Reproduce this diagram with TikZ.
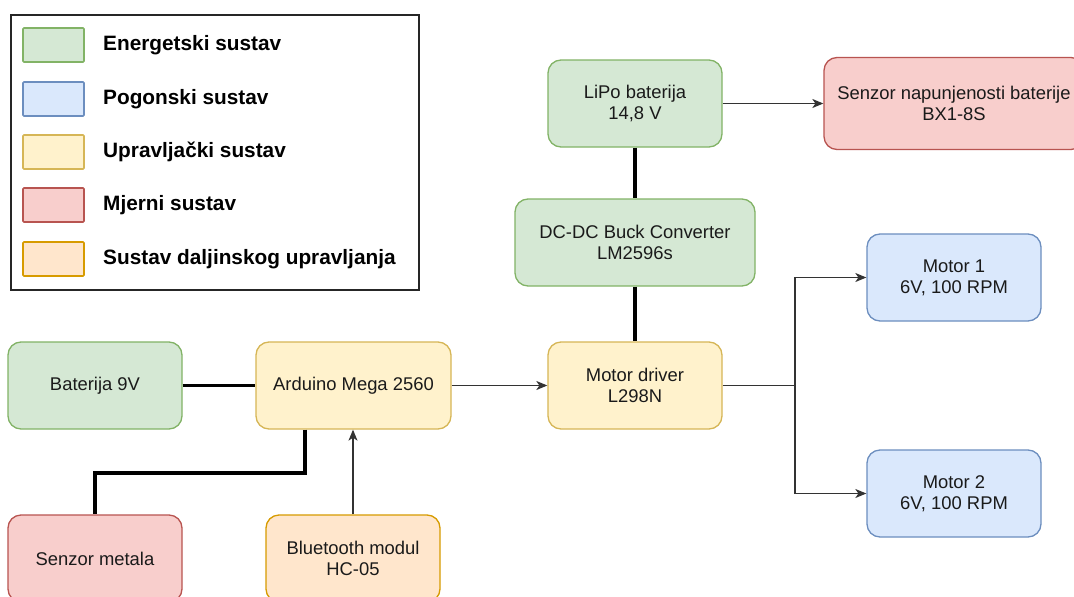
\documentclass[tikz,border=0pt]{standalone}
\usepackage{fontspec}
\setmainfont{Liberation Sans}
\usetikzlibrary{arrows.meta,calc}
\definecolor{gfill}{HTML}{D5E8D4}\definecolor{gdraw}{HTML}{82B366}
\definecolor{bfill}{HTML}{DAE8FC}\definecolor{bdraw}{HTML}{6C8EBF}
\definecolor{yfill}{HTML}{FFF2CC}\definecolor{ydraw}{HTML}{D6B656}
\definecolor{rfill}{HTML}{F8CECC}\definecolor{rdraw}{HTML}{B85450}
\definecolor{ofill}{HTML}{FFE6CC}\definecolor{odraw}{HTML}{D79B00}
\definecolor{txt}{HTML}{1A1A1A}
\tikzset{
  box/.style={rounded corners=13pt, line width=1.3pt, inner sep=0pt,
    minimum width=174pt, minimum height=87pt, align=center, text=txt,
    font=\fontsize{18.4}{21}\selectfont},
  green/.style={box, fill=gfill, draw=gdraw},
  blue/.style={box, fill=bfill, draw=bdraw},
  yellow/.style={box, fill=yfill, draw=ydraw},
  red/.style={box, fill=rfill, draw=rdraw},
  orange/.style={box, fill=ofill, draw=odraw},
  swatch/.style={minimum width=61pt, minimum height=34pt, inner sep=0pt, line width=1.6pt, rounded corners=1pt},
  legtext/.style={anchor=west, inner sep=0pt, font=\fontsize{20.8}{24}\selectfont\bfseries},
  power/.style={line width=3.6pt, black},
  signal/.style={line width=1.1pt, black!80, -{Stealth[length=11pt,width=9pt,inset=3pt]}},
  plain/.style={line width=1.1pt, black!80}
}
\begin{document}
\begin{tikzpicture}[x=1pt,y=-1pt]
\useasboundingbox[fill=white] (0,0) rectangle (1074,597);
% legend
\node[draw=black!85, line width=1.4pt, minimum width=408pt, minimum height=275pt, inner sep=0pt] (legend) at (215,152.5) {};
\node[swatch, fill=gfill, draw=gdraw] (sw1) at (53.5,45) {};
\node[swatch, fill=bfill, draw=bdraw] (sw2) at (53.5,99) {};
\node[swatch, fill=yfill, draw=ydraw] (sw3) at (53.5,152) {};
\node[swatch, fill=rfill, draw=rdraw] (sw4) at (53.5,205) {};
\node[swatch, fill=ofill, draw=odraw] (sw5) at (53.5,259) {};
\node[legtext] (l1) at (103,45) {Energetski sustav};
\node[legtext] (l2) at (103,99) {Pogonski sustav};
\node[legtext] (l3) at (103,152) {Upravljački sustav};
\node[legtext] (l4) at (103,205) {Mjerni sustav};
\node[legtext] (l5) at (103,259) {Sustav daljinskog upravljanja};
% blocks
\node[green] (bat9) at (95,385.5) {Baterija 9V};
\node[yellow, minimum width=195pt] (ard) at (353.5,385.5) {Arduino Mega 2560};
\node[red] (senz) at (95,558.5) {Senzor metala};
\node[orange] (bt) at (353,558.5) {Bluetooth modul\\HC-05};
\node[green] (lipo) at (635,103.5) {LiPo baterija\\14,8 V};
\node[red, minimum width=260pt, minimum height=92pt] (senzbat) at (954,103.5) {Senzor napunjenosti baterije\\BX1-8S};
\node[green, minimum width=240pt] (dcdc) at (635,242.5) {DC-DC Buck Converter\\LM2596s};
\node[yellow] (drv) at (635,385.5) {Motor driver\\L298N};
\node[blue] (m1) at (954,277.5) {Motor 1\\6V, 100 RPM};
\node[blue] (m2) at (954,493.5) {Motor 2\\6V, 100 RPM};
% connectors
\draw[power] (bat9.east) -- (ard.west);
\coordinate (j1) at (305,473);
\draw[power] (j1 |- ard.south) -- (j1) -| (senz.north);
\draw[signal] (bt.north) -- (bt.north |- ard.south);
\draw[signal] (ard.east) -- (drv.west);
\draw[power] (lipo.south) -- (dcdc.north);
\draw[power] (dcdc.south) -- (drv.north);
\draw[signal] (lipo.east) -- (senzbat.west);
\coordinate (split) at (795,385.5);
\draw[plain] (drv.east) -- (split);
\draw[signal] (split) |- (m1.west);
\draw[signal] (split) |- (m2.west);
\end{tikzpicture}
\end{document}
